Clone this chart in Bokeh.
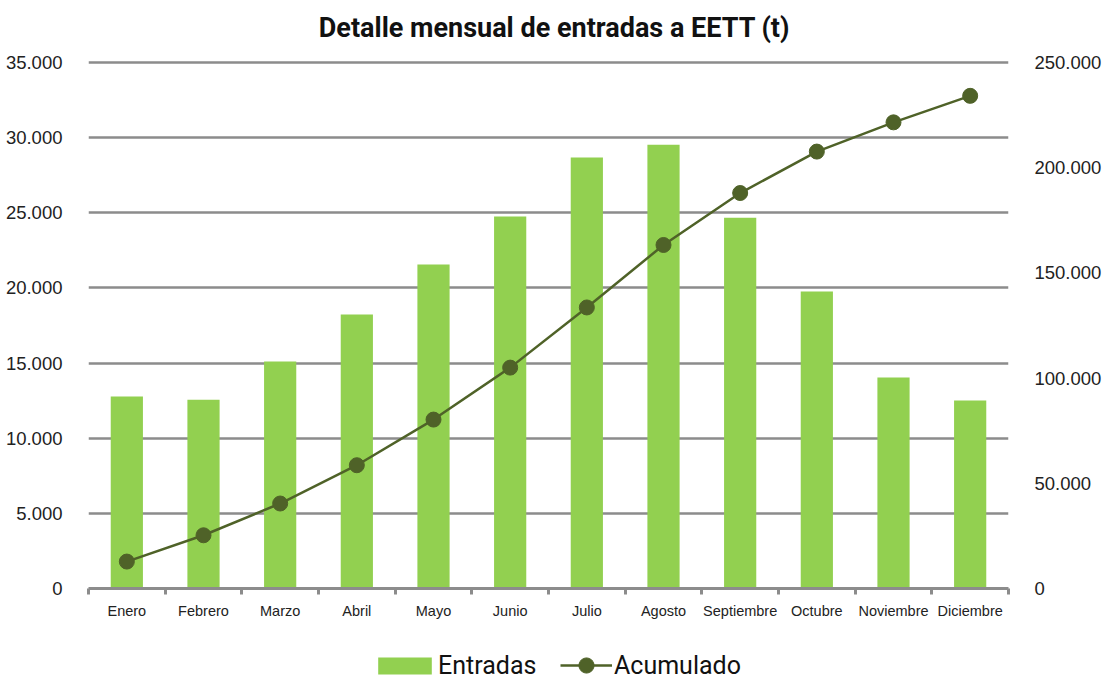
from bokeh.plotting import figure
from bokeh.layouts import column
from bokeh.models import (Range1d, LinearAxis, FixedTicker, CustomJSTickFormatter,
                          Legend, LegendItem, ColumnDataSource, Label)
from bokeh.embed import file_html
from bokeh.resources import INLINE

months = ["Enero", "Febrero", "Marzo", "Abril", "Mayo", "Junio", "Julio",
          "Agosto", "Septiembre", "Octubre", "Noviembre", "Diciembre"]
entradas = [12770, 12570, 15100, 18230, 21560, 24750, 28680, 29540, 24680, 19760, 14040, 12510]
acumulado = [12800, 25300, 40400, 58600, 80300, 105000, 133600, 163300, 188000, 207700, 221600, 234200]
left_ticks = [0, 5000, 10000, 15000, 20000, 25000, 30000, 35000]
right_ticks = [0, 50000, 100000, 150000, 200000, 250000]
series_names = ["Entradas", "Acumulado"]
title_text = "Detalle mensual de entradas a EETT (t)"

FONT = "Roboto"
AXFONT = "Liberation Sans"
BAR_COLOR = "#92d050"
LINE_COLOR = "#4f6228"
W = 1104
xs = [i + 0.5 for i in range(len(months))]
src = ColumnDataSource(dict(x=xs, e=entradas, a=acumulado))


def strip(height):
    f = figure(width=W, height=height, output_backend="svg", toolbar_location=None,
               min_border=0, x_range=Range1d(0, 1), y_range=Range1d(0, 1))
    f.outline_line_color = None
    f.axis.visible = False
    f.grid.visible = False
    return f


# title strip
tf = strip(50)
tf.add_layout(Label(x=0.5065, y=0.46, text=title_text, text_align="center",
                    text_baseline="middle", text_font=FONT, text_font_style="bold",
                    text_font_size="27px", text_color="#111111"))

p = figure(width=W, height=580, output_backend="svg", toolbar_location=None,
           x_range=Range1d(0, 12), y_range=Range1d(0, 35000 * 1.004),
           min_border_left=88, min_border_right=96, min_border_top=10, min_border_bottom=42)
p.outline_line_color = None
p.extra_y_ranges = {"acc": Range1d(0, 250000 * 1.004)}

fmt = CustomJSTickFormatter(code="return Math.round(tick).toString().replace(/\\B(?=(\\d{3})+(?!\\d))/g, '.');")

# left axis
ya = p.yaxis[0]
ya.ticker = FixedTicker(ticks=left_ticks)
ya.formatter = fmt
ya.axis_line_color = None
ya.major_tick_line_color = None
ya.minor_tick_line_color = None
ya.major_label_standoff = 20
ya.major_label_text_font = AXFONT
ya.major_label_text_font_size = "18.5px"
ya.major_label_text_color = "#222222"

# right axis
ra = LinearAxis(y_range_name="acc", ticker=FixedTicker(ticks=right_ticks), formatter=fmt)
ra.axis_line_color = None
ra.major_tick_line_color = None
ra.minor_tick_line_color = None
ra.major_label_standoff = 20
ra.major_label_text_font = AXFONT
ra.major_label_text_font_size = "18.5px"
ra.major_label_text_color = "#222222"
p.add_layout(ra, "right")

# x axis
xa = p.xaxis[0]
xa.ticker = FixedTicker(ticks=xs, minor_ticks=list(range(len(months) + 1)))
xa.major_label_overrides = {x: m for x, m in zip(xs, months)}
xa.major_tick_line_color = None
xa.minor_tick_line_color = "#8c8c8c"
xa.minor_tick_line_width = 3
xa.minor_tick_out = 6
xa.minor_tick_in = 0
xa.axis_line_color = "#8c8c8c"
xa.axis_line_width = 3
xa.major_label_standoff = 8
xa.major_label_text_font = AXFONT
xa.major_label_text_font_size = "14.5px"
xa.major_label_text_color = "#222222"

p.xgrid.grid_line_color = None
p.ygrid.ticker = FixedTicker(ticks=left_ticks[1:])
p.ygrid.grid_line_color = "#8c8c8c"
p.ygrid.grid_line_width = 2.5

p.vbar(x="x", top="e", width=0.42, source=src, fill_color=BAR_COLOR, line_color=None)
p.line(x="x", y="a", source=src, y_range_name="acc", line_color=LINE_COLOR, line_width=2.5)
p.scatter(x="x", y="a", source=src, y_range_name="acc", size=15,
          fill_color=LINE_COLOR, line_color=LINE_COLOR)

# legend strip below the chart (its renderers are hidden, only swatches are drawn)
lg = strip(50)
lb = lg.vbar(x="x", top="e", width=0.42, source=src, fill_color=BAR_COLOR,
             line_color=None, visible=False)
ll = lg.line(x="x", y="a", source=src, line_color=LINE_COLOR, line_width=2.5, visible=False)
lp = lg.scatter(x="x", y="a", source=src, size=15, fill_color=LINE_COLOR,
                line_color=LINE_COLOR, visible=False)
common = dict(orientation="horizontal", label_text_font=FONT, label_text_font_size="25px",
              label_text_color="#111111", background_fill_alpha=0,
              border_line_color=None, padding=0, margin=0)
leg_a = Legend(items=[LegendItem(label=series_names[0], renderers=[lb])],
               location=(283, 0), glyph_width=67, glyph_height=21, label_standoff=-4,
               **common)
leg_b = Legend(items=[LegendItem(label=series_names[1], renderers=[ll, lp])],
               location=(472, -4), glyph_width=52, glyph_height=38, label_standoff=2,
               **common)
lg.add_layout(leg_a, "center")
lg.add_layout(leg_b, "center")

layout = column(tf, p, lg, spacing=0)
open("out.html", "w").write(file_html(layout, INLINE))
